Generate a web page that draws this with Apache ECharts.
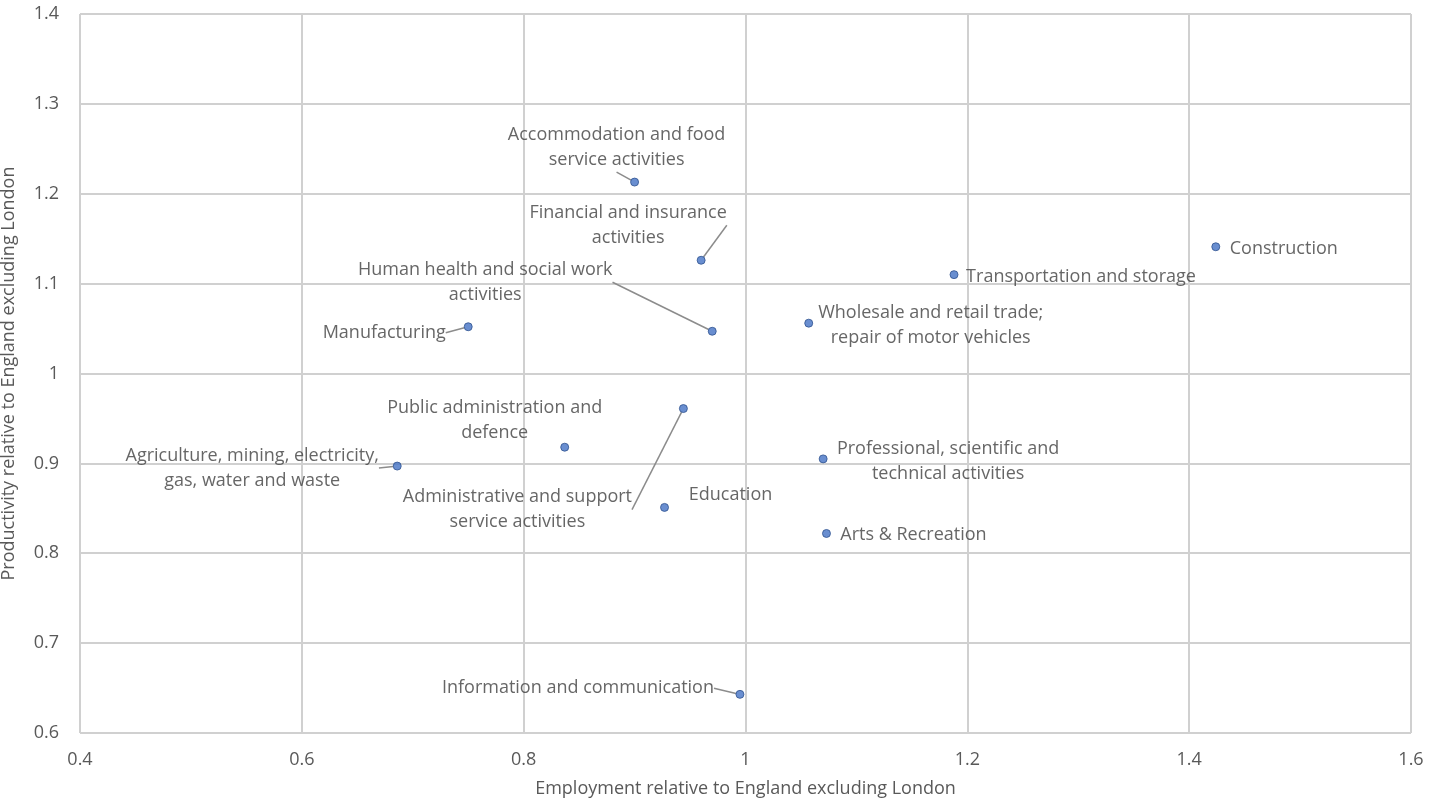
<!DOCTYPE html>
<html>
<head>
<meta charset="utf-8">
<script src="https://cdn.jsdelivr.net/npm/echarts@6/dist/echarts.min.js"></script>
<style>html,body{margin:0;padding:0;background:#fff}#c{width:1437px;height:803px}</style>
</head>
<body>
<div id="c"></div>
<script>
const sectors = [
  "Accommodation and food\nservice activities",
  "Financial and insurance\nactivities",
  "Human health and social work\nactivities",
  "Manufacturing",
  "Construction",
  "Transportation and storage",
  "Wholesale and retail trade;\nrepair of motor vehicles",
  "Public administration and\ndefence",
  "Administrative and support\nservice activities",
  "Agriculture, mining, electricity,\ngas, water and waste",
  "Professional, scientific and\ntechnical activities",
  "Education",
  "Arts & Recreation",
  "Information and communication"
];
const employment = [0.900, 0.960, 0.970, 0.750, 1.424, 1.188, 1.057, 0.837, 0.944, 0.686, 1.070, 0.927, 1.073, 0.995];
const productivity = [1.213, 1.126, 1.047, 1.052, 1.141, 1.110, 1.056, 0.918, 0.961, 0.897, 0.905, 0.851, 0.822, 0.643];
const xTicks = { min: 0.4, max: 1.6, interval: 0.2 };
const yTicks = { min: 0.6, max: 1.4, interval: 0.1 };

// label placement (pixel offsets of label centre from point) and leader-line flags
const labelOffsets = [
  [-18, -35], [-73, -35], [-227, -49], [-84, 6], [68, 2], [127, 2], [122, 2],
  [-70, -27], [-166, 101], [-145, 2], [125, 2], [66, -13], [87, 1], [-162, -6]
];
const leader = [true, true, true, true, false, false, false, false, true, true, false, false, false, true];

const chart = echarts.init(document.getElementById('c'));
const FONT = 'Open Sans';
const data = sectors.map((s, i) => ({
  name: s,
  value: [employment[i], productivity[i]],
  labelLine: { show: leader[i] }
}));
chart.setOption({
  animation: false,
  textStyle: { fontFamily: FONT },
  grid: { left: 80, right: 26, top: 14, bottom: 70, containLabel: false, outerBoundsMode: 'none' },
  xAxis: {
    type: 'value', min: xTicks.min, max: xTicks.max, interval: xTicks.interval,
    name: 'Employment relative to England excluding London',
    nameLocation: 'middle', nameGap: 47,
    nameTextStyle: { color: '#595959', fontSize: 18, fontFamily: FONT },
    axisLine: { show: false }, axisTick: { show: false },
    axisLabel: { color: '#595959', fontSize: 18, margin: 18, fontFamily: FONT },
    splitLine: { show: true, lineStyle: { color: '#d0d0d0', width: 2 } }
  },
  yAxis: {
    type: 'value', min: yTicks.min, max: yTicks.max, interval: yTicks.interval,
    name: 'Productivity relative to England excluding London',
    nameLocation: 'middle', nameGap: 62,
    nameTextStyle: { color: '#595959', fontSize: 18, fontFamily: FONT },
    axisLine: { show: false }, axisTick: { show: false },
    axisLabel: { color: '#595959', fontSize: 18, margin: 21, fontFamily: FONT },
    splitLine: { show: true, lineStyle: { color: '#d0d0d0', width: 2 } }
  },
  series: [{
    type: 'scatter',
    data: data,
    symbolSize: 8,
    itemStyle: { color: '#4472C4', borderColor: '#2F528F', borderWidth: 1 },
    label: {
      show: true,
      formatter: p => p.name,
      color: '#404040', fontSize: 18, lineHeight: 25, fontFamily: FONT,
      align: 'center'
    },
    labelLine: { show: false, lineStyle: { color: '#8c8c8c', width: 1.5 } },
    labelLayout: function (params) {
      const o = labelOffsets[params.dataIndex];
      const cx = params.rect.x + params.rect.width / 2;
      const cy = params.rect.y + params.rect.height / 2;
      return { x: cx + o[0], y: cy + o[1], align: 'center', verticalAlign: 'middle' };
    }
  }]
});
</script>
</body>
</html>
